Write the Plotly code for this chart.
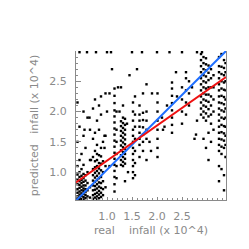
import plotly.graph_objects as go

# ---- data (units of 10^4), grouped by vertical streaks of real rainfall ----
xA = [0.41]*10 + [0.45]*11 + [0.49]*10 + [0.53]*12 + [0.57]*8 + [0.61]*5 + [0.66]*4
yA = [0.56,0.60,0.66,0.72,0.80,0.88,0.96,1.10,1.50,2.15,
      0.55,0.58,0.63,0.68,0.74,0.79,0.85,0.92,1.00,1.20,1.75,
      0.56,0.61,0.65,0.70,0.76,0.82,0.87,0.94,1.05,1.30,
      0.55,0.59,0.64,0.69,0.73,0.78,0.84,0.90,0.97,1.12,1.60,2.00,
      0.57,0.62,0.67,0.72,0.78,0.86,0.95,1.40,
      0.60,0.70,0.82,1.00,1.90,
      0.58,0.75,1.20,1.70]
xB = [0.72]*10 + [0.76]*12 + [0.80]*13 + [0.84]*12 + [0.88]*11 + [0.92]*6 + [0.97]*4
yB = [0.56,0.62,0.70,0.78,0.86,0.95,1.05,1.25,1.55,2.05,
      0.58,0.64,0.71,0.77,0.84,0.91,0.99,1.08,1.18,1.35,1.65,2.20,
      0.55,0.60,0.66,0.73,0.80,0.87,0.94,1.02,1.10,1.20,1.30,1.45,1.85,
      0.57,0.63,0.69,0.76,0.83,0.90,0.98,1.06,1.15,1.28,1.70,2.10,
      0.59,0.66,0.74,0.82,0.92,1.03,1.14,1.26,1.40,1.95,2.25,
      0.62,0.72,0.85,1.00,1.18,1.50,
      0.75,1.10,1.60,2.30]
xC = [1.15]*17 + [1.19]*6
yC = [0.68,0.80,0.92,1.02,1.12,1.22,1.32,1.42,1.52,1.62,1.72,1.82,1.92,2.02,2.14,2.26,2.38,
      0.90,1.10,1.30,1.50,1.70,2.00]
xD = [1.28]*11 + [1.32]*12 + [1.36]*11
yD = [1.12,1.20,1.28,1.36,1.44,1.52,1.60,1.68,1.76,1.84,2.40,
      1.10,1.17,1.25,1.33,1.41,1.49,1.57,1.65,1.73,1.81,1.90,2.10,
      1.14,1.22,1.30,1.38,1.46,1.54,1.62,1.70,1.78,1.88,0.85]
xE = [1.52]*12 + [1.56]*7
yE = [0.90,1.00,1.10,1.20,1.30,1.40,1.50,1.60,1.70,1.85,2.00,2.15,
      0.95,1.15,1.35,1.55,1.75,1.95,2.25]
xF = [1.65]*8 + [1.72]*7 + [1.79]*6
yF = [1.45,1.55,1.65,1.75,1.85,1.95,2.10,1.25,
      1.50,1.62,1.74,1.86,1.98,2.30,1.35,
      1.55,1.70,1.85,2.00,2.45,1.20]
xG = [2.01]*8
yG = [1.25,1.40,1.55,1.70,1.85,2.00,2.15,2.30]
xH = [2.30]*8
yH = [1.65,1.78,1.90,2.02,2.14,2.26,2.38,2.48]
xI = [2.50]*4 + [2.58]*5 + [2.64]*3
yI = [1.80,2.00,2.20,2.40, 1.95,2.15,2.35,2.55,2.65, 2.10,2.30,2.50]
xJ = [2.88]*11 + [2.93]*12 + [2.98]*12 + [3.03]*10 + [3.08]*8 + [3.13]*5
yJ = [1.95,2.05,2.15,2.25,2.35,2.45,2.55,2.65,2.75,2.85,2.95,
      1.90,2.00,2.10,2.20,2.30,2.40,2.50,2.60,2.70,2.80,2.90,1.55,
      1.85,1.97,2.08,2.18,2.28,2.38,2.48,2.58,2.68,2.78,2.88,1.40,
      1.92,2.04,2.16,2.28,2.40,2.52,2.64,2.76,1.65,1.20,
      1.80,1.95,2.10,2.25,2.40,2.55,2.70,1.50,
      2.00,2.20,2.40,2.60,1.70]
xK = [3.24]*18 + [3.29]*15 + [3.34]*15 + [3.37]*11
yK = [1.35,1.45,1.55,1.65,1.75,1.85,1.95,2.05,2.15,2.25,2.35,2.45,2.55,2.65,2.75,2.90,1.10,0.85,
      1.30,1.42,1.54,1.66,1.78,1.90,2.02,2.14,2.26,2.38,2.50,2.62,2.74,2.95,1.05,
      1.40,1.52,1.64,1.76,1.88,2.00,2.12,2.24,2.36,2.48,2.60,2.72,2.85,0.95,0.70,
      1.45,1.60,1.75,1.90,2.05,2.20,2.35,2.50,2.65,2.80,1.25]
xS = [0.55,0.65,0.95,1.00,1.05,1.10,1.22,1.25,1.40,1.45,1.60,1.85,1.90,2.10,2.15,2.20,2.40,2.70,2.75,2.80,1.05,0.95,0.68,1.42,1.88,2.12,2.38,2.78,0.60,1.00,1.50,2.00,2.50,2.80,0.45,0.78,1.08,1.70,2.25,2.90]
yS = [1.70,1.90,1.60,2.00,2.30,2.70,2.40,2.00,1.80,2.60,2.70,1.50,2.30,1.90,1.75,2.10,2.25,2.40,1.55,1.85,1.10,1.40,1.20,1.00,1.35,1.70,2.65,1.62,2.98,2.98,2.98,2.98,2.98,2.98,2.98,2.98,2.98,2.98,2.98,2.98]

blue_x = [0.38, 3.38]
blue_y = [0.53, 3.00]
red_x = [0.38, 3.38]
red_y = [0.83, 2.57]

tick_vals = [1.0, 1.5, 2.0, 2.5]
tick_text = ["1.0", "1.5", "2.0", "2.5"]

real_x = xA + xB + xC + xD + xE + xF + xG + xH + xI + xJ + xK + xS
pred_y = yA + yB + yC + yD + yE + yF + yG + yH + yI + yJ + yK + yS

grey = "#8a8a8a"
fig = go.Figure()
fig.add_trace(go.Scatter(x=real_x, y=pred_y, mode="markers",
                         marker=dict(color="black", size=2.4, symbol="square", line=dict(width=0)),
                         showlegend=False, cliponaxis=True))
fig.add_trace(go.Scatter(x=blue_x, y=blue_y, mode="lines",
                         line=dict(color="#1e6eff", width=2), showlegend=False))
fig.add_trace(go.Scatter(x=red_x, y=red_y, mode="lines",
                         line=dict(color="#ee1111", width=2), showlegend=False))

fig.update_layout(
    width=249, height=249,
    margin=dict(l=68, r=31, t=43, b=57, autoexpand=False),
    plot_bgcolor="white", paper_bgcolor="white",
    font=dict(family="DejaVu Sans", size=11, color=grey),
)
fig.update_xaxes(
    range=[0.38, 3.38], tickvals=tick_vals, ticktext=tick_text, automargin=False,
    showgrid=False, zeroline=False, showline=True, linecolor=grey, linewidth=1,
    ticks="inside", ticklen=3, tickcolor=grey,
    minor=dict(ticks="inside", ticklen=2, tickcolor=grey, dtick=0.1, tick0=0),
    tickfont=dict(size=11, color=grey), ticklabelstandoff=6,
    title=dict(text="real\u00a0\u00a0\u00a0\u00a0infall (x 10^4)", font=dict(size=11, color=grey), standoff=4),
    mirror=False,
)
fig.update_yaxes(
    range=[0.54, 3.0], tickvals=tick_vals, ticktext=tick_text, automargin=False,
    showgrid=False, zeroline=False, showline=True, linecolor=grey, linewidth=1,
    ticks="inside", ticklen=5, tickcolor=grey,
    minor=dict(ticks="inside", ticklen=2, tickcolor=grey, dtick=0.1, tick0=0),
    tickfont=dict(size=11, color=grey), ticklabelstandoff=6,
    title=dict(text="predicted\u00a0\u00a0\u00a0infall (x 10^4)", font=dict(size=11, color=grey), standoff=8),
    mirror=True,
)
fig.write_html("out.html")
